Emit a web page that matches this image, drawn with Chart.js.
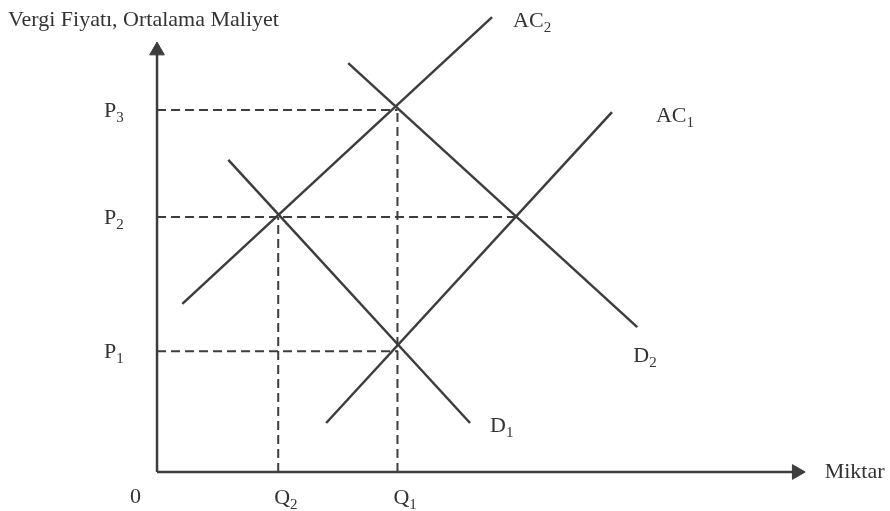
<!DOCTYPE html>
<html>
<head>
<meta charset="utf-8">
<title>Vergi Fiyatı, Ortalama Maliyet</title>
<script src="https://cdn.jsdelivr.net/npm/chart.js@4/dist/chart.umd.min.js"></script>
<style>
  html, body { margin: 0; padding: 0; background: #fff; }
  canvas { display: block; }
</style>
</head>
<body>
<canvas id="chart" width="890" height="511"></canvas>
<script>
/* Vergi fiyatı ve ortalama maliyet diyagramı (AC1, AC2, D1, D2) */

// miktar seviyeleri: Q2, Q1
const quantityNames = ["Q_2", "Q_1"];
const quantityLevels = [18.7, 37.1];
const quantityGuideTops = [59.3, 84.2];

// fiyat seviyeleri: P1, P2, P3
const priceNames = ["P_1", "P_2", "P_3"];
const priceLevels = [28.1, 59.3, 84.2];
const priceGuideEnds = [37.2, 55.2, 37.1];

// eğriler
const curveNames = ["AC_1", "AC_2", "D_1", "D_2"];
const curveStartX = [26.1, 3.9, 11.0, 29.5];
const curveStartY = [11.4, 39.1, 72.6, 95.1];
const curveEndX = [70.2, 51.7, 48.3, 74.1];
const curveEndY = [83.7, 105.8, 11.4, 33.7];

// eksenler
const xAxisEnd = 98.7;
const yAxisEnd = 98.0;
const axisTitles = { x: "Miktar", y: "Vergi Fiyatı, Ortalama Maliyet", origin: "0" };

const ink = "#3d3d3d";
const font = '"Liberation Serif", "Times New Roman", serif';

const datasets = [];

// kesikli yardımcı çizgiler
priceLevels.forEach((p, i) => {
  datasets.push({
    data: [{ x: 0, y: p }, { x: priceGuideEnds[i], y: p }],
    borderColor: ink, borderWidth: 2, borderDash: [9, 5], pointRadius: 0,
  });
});
quantityLevels.forEach((q, i) => {
  datasets.push({
    data: [{ x: q, y: 0 }, { x: q, y: quantityGuideTops[i] }],
    borderColor: ink, borderWidth: 2, borderDash: [9, 5], pointRadius: 0,
  });
});

// eğriler
curveNames.forEach((name, i) => {
  datasets.push({
    label: name,
    data: [{ x: curveStartX[i], y: curveStartY[i] }, { x: curveEndX[i], y: curveEndY[i] }],
    borderColor: ink, borderWidth: 2.5, pointRadius: 0,
  });
});

// eksen çizgileri, uçta ok
datasets.push({
  data: [{ x: 0, y: 0 }, { x: 0, y: yAxisEnd }],
  borderColor: ink, borderWidth: 2.5,
  pointStyle: "triangle", pointRadius: [0, 8.5], pointRotation: 0,
  pointBackgroundColor: ink, pointBorderColor: ink, pointBorderWidth: 1,
});
datasets.push({
  data: [{ x: 0, y: 0 }, { x: xAxisEnd, y: 0 }],
  borderColor: ink, borderWidth: 2.5,
  pointStyle: "triangle", pointRadius: [0, 8.5], pointRotation: 90,
  pointBackgroundColor: ink, pointBorderColor: ink, pointBorderWidth: 1,
});

function drawSubText(ctx, text, x, y) {
  const [base, sub] = text.split("_");
  ctx.font = "22px " + font;
  ctx.fillText(base, x, y);
  if (sub) {
    const w = ctx.measureText(base).width;
    ctx.font = "15px " + font;
    ctx.fillText(sub, x + w, y + 5);
  }
}

const labelPlugin = {
  id: "labels",
  afterDatasetsDraw(chart) {
    const { ctx } = chart;
    const xs = chart.scales.x;
    const ys = chart.scales.y;
    const px = (v) => xs.getPixelForValue(v);
    const py = (v) => ys.getPixelForValue(v);
    ctx.save();
    ctx.fillStyle = "#333";
    ctx.textAlign = "left";
    ctx.textBaseline = "alphabetic";

    // eğri adları, uç noktalarının yanında
    const curveOffsets = [[44, 10], [21, 10], [20, 9], [-4, 35]];
    curveNames.forEach((name, i) => {
      drawSubText(ctx, name, px(curveEndX[i]) + curveOffsets[i][0], py(curveEndY[i]) + curveOffsets[i][1]);
    });

    priceNames.forEach((name, i) => drawSubText(ctx, name, px(0) - 53, py(priceLevels[i]) + 7));
    quantityNames.forEach((name, i) => drawSubText(ctx, name, px(quantityLevels[i]) - 4, py(0) + 32));

    drawSubText(ctx, axisTitles.origin, px(0) - 27, py(0) + 31);
    drawSubText(ctx, axisTitles.x, px(xAxisEnd) + 28, py(0) + 6);
    drawSubText(ctx, axisTitles.y, px(0) - 149, py(yAxisEnd) - 25);
    ctx.restore();
  },
};

new Chart(document.getElementById("chart"), {
  type: "scatter",
  data: { datasets },
  options: {
    responsive: false,
    animation: false,
    showLine: true,
    layout: { padding: 0, autoPadding: false },
    plugins: { legend: { display: false }, tooltip: { enabled: false } },
    elements: { line: { tension: 0, borderCapStyle: "butt" } },
    scales: {
      x: { type: "linear", display: false, min: -24.23, max: 113.1 },
      y: { type: "linear", display: false, min: -9.07, max: 109.77 },
    },
  },
  plugins: [labelPlugin],
});
</script>
</body>
</html>
